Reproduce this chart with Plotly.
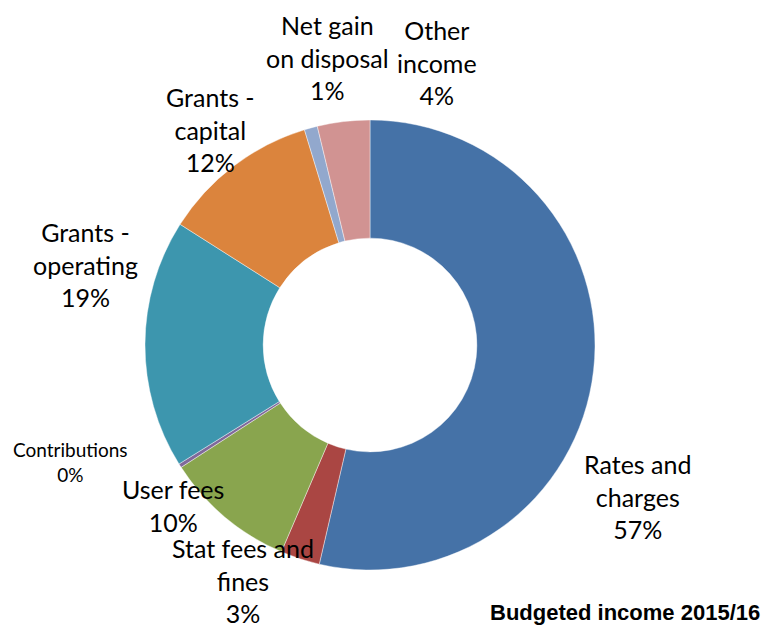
import plotly.graph_objects as go

# Budgeted income 2015/16 by source (percent of total)
categories = [
    "Rates and charges",
    "Stat fees and fines",
    "User fees",
    "Contributions",
    "Grants - operating",
    "Grants - capital",
    "Net gain on disposal",
    "Other income",
]
values = [57, 3, 10, 0.3, 19, 12, 1, 4]
label_lines = [
    ["Rates and", "charges"],
    ["Stat fees and", "fines"],
    ["User fees"],
    ["Contributions"],
    ["Grants -", "operating"],
    ["Grants -", "capital"],
    ["Net gain", "on disposal"],
    ["Other", "income"],
]
colors = ["#4572A7", "#AA4643", "#89A54E", "#80699B",
          "#3D96AE", "#DB843D", "#92A8CD", "#D19392"]

W, H = 763, 630
cx, cy, r = 370, 345, 225

# label centres in pixels from the top-left corner, and font size per label
label_px = [
    (637, 496), (243, 580), (173, 505), (70, 462),
    (85, 265), (210, 129), (327, 57), (437, 63),
]
label_size = [25, 25, 25, 19, 25, 25, 25, 25]

fig = go.Figure(go.Pie(
    labels=categories,
    values=values,
    sort=False,
    direction="clockwise",
    rotation=0,
    hole=0.475,
    textinfo="none",
    hoverinfo="label+value",
    marker=dict(colors=colors, line=dict(color="rgba(255,255,255,0.7)", width=0.6)),
    domain=dict(x=[(cx - r) / W, (cx + r) / W],
                y=[(H - cy - r) / H, (H - cy + r) / H]),
    showlegend=False,
))

font_family = "Lato, Calibri, Carlito, sans-serif"
for name_lines, v, (px, py), fs in zip(label_lines, values, label_px, label_size):
    text = "<br>".join(name_lines + [f"{v:.0f}%"])
    fig.add_annotation(
        x=px / W, y=(H - py) / H, xref="paper", yref="paper",
        text=text, showarrow=False, align="center",
        xanchor="center", yanchor="middle",
        font=dict(family=font_family, size=fs, color="#000000"),
    )

fig.add_annotation(
    x=625 / W, y=(H - 612) / H, xref="paper", yref="paper",
    text="<b>Budgeted income 2015/16</b>", showarrow=False,
    xanchor="center", yanchor="middle",
    font=dict(family="Liberation Sans Narrow, Arial Narrow, Liberation Sans, sans-serif",
              size=22, color="#000000"),
)

fig.update_layout(
    width=W, height=H,
    margin=dict(l=0, r=0, t=0, b=0),
    paper_bgcolor="white",
    plot_bgcolor="white",
)

fig.write_html("out.html")
